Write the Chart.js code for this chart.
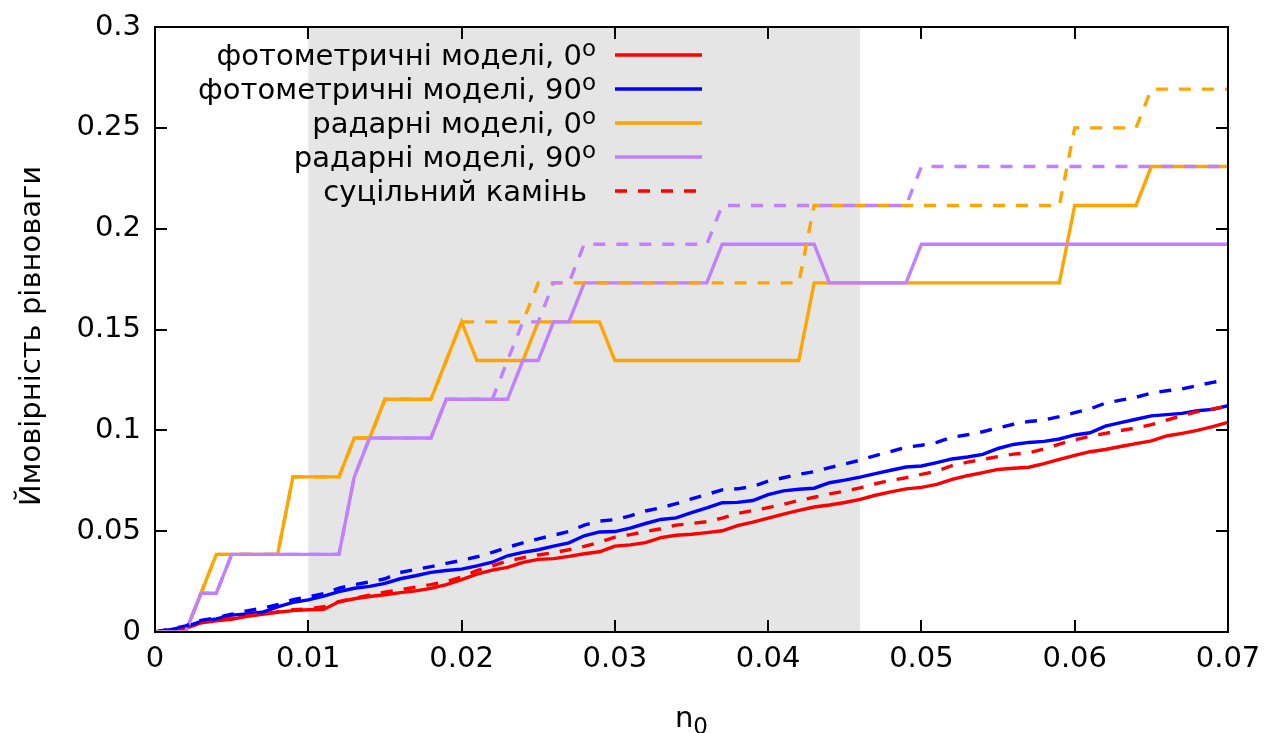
<!DOCTYPE html>
<html>
<head>
<meta charset="utf-8">
<script src="https://cdn.jsdelivr.net/npm/chart.js@4"></script>
<style>
  html, body { margin: 0; padding: 0; background: #fff; }
  #wrap { width: 1266px; height: 733px; }
</style>
</head>
<body>
<div id="wrap"><canvas id="chart"></canvas></div>
<script>
// n0 grid
const n0 = [0, 0.001, 0.002, 0.003, 0.004, 0.005, 0.006, 0.007, 0.008, 0.009,
  0.01, 0.011, 0.012, 0.013, 0.014, 0.015, 0.016, 0.017, 0.018, 0.019,
  0.02, 0.021, 0.022, 0.023, 0.024, 0.025, 0.026, 0.027, 0.028, 0.029,
  0.03, 0.031, 0.032, 0.033, 0.034, 0.035, 0.036, 0.037, 0.038, 0.039,
  0.04, 0.041, 0.042, 0.043, 0.044, 0.045, 0.046, 0.047, 0.048, 0.049,
  0.05, 0.051, 0.052, 0.053, 0.054, 0.055, 0.056, 0.057, 0.058, 0.059,
  0.06, 0.061, 0.062, 0.063, 0.064, 0.065, 0.066, 0.067, 0.068, 0.069, 0.07]

// photometric models
const photo0 = [0, 0.0008, 0.0018, 0.0045, 0.0055, 0.0063, 0.0078, 0.0088, 0.0098, 0.0106,
  0.011, 0.0112, 0.015, 0.0165, 0.0176, 0.0185, 0.0195, 0.0204, 0.0216, 0.0235,
  0.026, 0.0287, 0.0307, 0.032, 0.0345, 0.036, 0.0364, 0.0375, 0.0388, 0.0398,
  0.0426, 0.0432, 0.0443, 0.0468, 0.048, 0.0485, 0.0493, 0.0502, 0.0528, 0.0545,
  0.0565, 0.0585, 0.0603, 0.062, 0.063, 0.0642, 0.0658, 0.0678, 0.0695, 0.071,
  0.0717, 0.0732, 0.0757, 0.0775, 0.079, 0.0806, 0.0812, 0.0817, 0.0835, 0.0856,
  0.0876, 0.0894, 0.0905, 0.092, 0.0934, 0.0948, 0.0972, 0.0985, 0.1, 0.1018, 0.104]

const photo90 = [0, 0.0012, 0.0026, 0.0052, 0.0065, 0.0084, 0.009, 0.0098, 0.0125, 0.0147,
  0.0159, 0.0178, 0.02, 0.0217, 0.0226, 0.0241, 0.0264, 0.0279, 0.0296, 0.0305,
  0.0312, 0.0328, 0.0346, 0.0378, 0.0395, 0.0408, 0.0426, 0.0442, 0.0477, 0.0496,
  0.0498, 0.0515, 0.0538, 0.0558, 0.0566, 0.0592, 0.0615, 0.0641, 0.0643, 0.0652,
  0.0681, 0.07, 0.0708, 0.0713, 0.074, 0.0753, 0.0768, 0.0785, 0.0802, 0.0818,
  0.0823, 0.084, 0.0858, 0.0868, 0.0881, 0.091, 0.093, 0.094, 0.0945, 0.0957,
  0.0977, 0.0988, 0.1021, 0.1038, 0.1055, 0.1072, 0.1078, 0.1084, 0.1097, 0.1104, 0.1122]

// radar models
const radar0 = [0, 0, 0, 0.0192, 0.0385, 0.0385, 0.0385, 0.0385, 0.0385, 0.0769,
  0.0769, 0.0769, 0.0769, 0.0962, 0.0962, 0.1154, 0.1154, 0.1154, 0.1154, 0.1346,
  0.1538, 0.1346, 0.1346, 0.1346, 0.1346, 0.1538, 0.1538, 0.1538, 0.1538, 0.1538,
  0.1346, 0.1346, 0.1346, 0.1346, 0.1346, 0.1346, 0.1346, 0.1346, 0.1346, 0.1346,
  0.1346, 0.1346, 0.1346, 0.1731, 0.1731, 0.1731, 0.1731, 0.1731, 0.1731, 0.1731,
  0.1731, 0.1731, 0.1731, 0.1731, 0.1731, 0.1731, 0.1731, 0.1731, 0.1731, 0.1731,
  0.2115, 0.2115, 0.2115, 0.2115, 0.2115, 0.2308, 0.2308, 0.2308, 0.2308, 0.2308, 0.2308]

const radar90 = [0, 0, 0, 0.0192, 0.0192, 0.0385, 0.0385, 0.0385, 0.0385, 0.0385,
  0.0385, 0.0385, 0.0385, 0.0769, 0.0962, 0.0962, 0.0962, 0.0962, 0.0962, 0.1154,
  0.1154, 0.1154, 0.1154, 0.1154, 0.1346, 0.1346, 0.1538, 0.1538, 0.1731, 0.1731,
  0.1731, 0.1731, 0.1731, 0.1731, 0.1731, 0.1731, 0.1731, 0.1923, 0.1923, 0.1923,
  0.1923, 0.1923, 0.1923, 0.1923, 0.1731, 0.1731, 0.1731, 0.1731, 0.1731, 0.1731,
  0.1923, 0.1923, 0.1923, 0.1923, 0.1923, 0.1923, 0.1923, 0.1923, 0.1923, 0.1923,
  0.1923, 0.1923, 0.1923, 0.1923, 0.1923, 0.1923, 0.1923, 0.1923, 0.1923, 0.1923, 0.1923]

// solid rock (dashed curves)
const rockPhoto0 = [0, 0.0008, 0.002, 0.0048, 0.006, 0.0068, 0.008, 0.009, 0.01, 0.011,
  0.0115, 0.0125, 0.015, 0.0168, 0.0182, 0.0198, 0.021, 0.0222, 0.0235, 0.025,
  0.0272, 0.0305, 0.0328, 0.0352, 0.0368, 0.0382, 0.0393, 0.0408, 0.0425, 0.0445,
  0.047, 0.0483, 0.0498, 0.0512, 0.053, 0.0538, 0.0547, 0.0565, 0.0588, 0.0602,
  0.0617, 0.0633, 0.0652, 0.0668, 0.0685, 0.0698, 0.0715, 0.0735, 0.0752, 0.0765,
  0.0782, 0.0798, 0.0825, 0.0842, 0.0856, 0.087, 0.0882, 0.0888, 0.0908, 0.0932,
  0.0953, 0.097, 0.0985, 0.0999, 0.1012, 0.1028, 0.1051, 0.1073, 0.1093, 0.1106, 0.112]

const rockPhoto90 = [0, 0.0015, 0.003, 0.0058, 0.007, 0.0088, 0.0105, 0.0118, 0.0135, 0.016,
  0.0175, 0.019, 0.0217, 0.0235, 0.0248, 0.0264, 0.0295, 0.031, 0.0324, 0.034,
  0.0355, 0.0373, 0.0395, 0.042, 0.0442, 0.0462, 0.048, 0.0498, 0.053, 0.055,
  0.0557, 0.0576, 0.06, 0.0616, 0.0636, 0.066, 0.0682, 0.0705, 0.071, 0.0722,
  0.0748, 0.0765, 0.0782, 0.0795, 0.0815, 0.0833, 0.0852, 0.0875, 0.0895, 0.0916,
  0.0926, 0.094, 0.0966, 0.0978, 0.0993, 0.1012, 0.103, 0.1044, 0.1051, 0.1068,
  0.1088, 0.1106, 0.1135, 0.115, 0.1164, 0.1185, 0.1196, 0.1205, 0.1222, 0.1238, 0.125]

const rockRadar0 = [0, 0, 0, 0.0192, 0.0385, 0.0385, 0.0385, 0.0385, 0.0385, 0.0769,
  0.0769, 0.0769, 0.0769, 0.0962, 0.0962, 0.1154, 0.1154, 0.1154, 0.1154, 0.1346,
  0.1538, 0.1538, 0.1538, 0.1538, 0.1538, 0.1731, 0.1731, 0.1731, 0.1731, 0.1731,
  0.1731, 0.1731, 0.1731, 0.1731, 0.1731, 0.1731, 0.1731, 0.1731, 0.1731, 0.1731,
  0.1731, 0.1731, 0.1731, 0.2115, 0.2115, 0.2115, 0.2115, 0.2115, 0.2115, 0.2115,
  0.2115, 0.2115, 0.2115, 0.2115, 0.2115, 0.2115, 0.2115, 0.2115, 0.2115, 0.2115,
  0.25, 0.25, 0.25, 0.25, 0.25, 0.2692, 0.2692, 0.2692, 0.2692, 0.2692, 0.2692]

const rockRadar90 = [0, 0, 0, 0.0192, 0.0192, 0.0385, 0.0385, 0.0385, 0.0385, 0.0385,
  0.0385, 0.0385, 0.0385, 0.0769, 0.0962, 0.0962, 0.0962, 0.0962, 0.0962, 0.1154,
  0.1154, 0.1154, 0.1154, 0.1346, 0.1538, 0.1538, 0.1731, 0.1731, 0.1923, 0.1923,
  0.1923, 0.1923, 0.1923, 0.1923, 0.1923, 0.1923, 0.1923, 0.2115, 0.2115, 0.2115,
  0.2115, 0.2115, 0.2115, 0.2115, 0.2115, 0.2115, 0.2115, 0.2115, 0.2115, 0.2115,
  0.2308, 0.2308, 0.2308, 0.2308, 0.2308, 0.2308, 0.2308, 0.2308, 0.2308, 0.2308,
  0.2308, 0.2308, 0.2308, 0.2308, 0.2308, 0.2308, 0.2308, 0.2308, 0.2308, 0.2308, 0.2308]

// axes
const xTicks = [0, 0.01, 0.02, 0.03, 0.04, 0.05, 0.06, 0.07]
const xTickLabels = ["0", "0.01", "0.02", "0.03", "0.04", "0.05", "0.06", "0.07"]
const yTicks = [0, 0.05, 0.1, 0.15, 0.2, 0.25, 0.3]
const yTickLabels = ["0", "0.05", "0.1", "0.15", "0.2", "0.25", "0.3"]

// shaded band
const bandFrom = 0.01
const bandTo = 0.046

const FONT = "'DejaVu Sans', sans-serif"
const FS = 29
const RED = "#ff0000"
const BLUE = "#0000ff"
const ORANGE = "#ffa500"
const PURPLE = "#c080ff"
const LW = 3.4
const DASH = [12, 11]

// key entries: [text, superscript, colour, dashed]
const keyItems = [
  ["фотометричні моделі, 0", "o", RED, false],
  ["фотометричні моделі, 90", "o", BLUE, false],
  ["радарні моделі, 0", "o", ORANGE, false],
  ["радарні моделі, 90", "o", PURPLE, false],
  ["суцільний камінь", "", RED, true],
]

function series(values, color, dashed, order) {
  return {
    data: n0.map((x, i) => ({ x, y: values[i] })),
    borderColor: color,
    borderWidth: LW,
    borderDash: dashed ? DASH : [],
    pointRadius: 0,
    fill: false,
    tension: 0,
    order,
  }
}

const bandPlugin = {
  id: "band",
  beforeDatasetsDraw(chart) {
    const { ctx, chartArea, scales } = chart
    const x1 = scales.x.getPixelForValue(bandFrom)
    const x2 = scales.x.getPixelForValue(bandTo)
    ctx.save()
    ctx.fillStyle = "#e5e5e5"
    ctx.fillRect(x1, chartArea.top, x2 - x1, chartArea.bottom - chartArea.top)
    ctx.restore()
  },
}

// border box with inward ticks on all four sides, key and axis titles
const framePlugin = {
  id: "frame",
  afterDraw(chart) {
    const { ctx, chartArea: a, scales } = chart
    const tick = 12
    ctx.save()
    ctx.strokeStyle = "#000"
    ctx.lineWidth = 2
    ctx.beginPath()
    xTicks.forEach((v) => {
      const px = Math.round(scales.x.getPixelForValue(v))
      ctx.moveTo(px, a.bottom); ctx.lineTo(px, a.bottom - tick)
      ctx.moveTo(px, a.top); ctx.lineTo(px, a.top + tick)
    })
    yTicks.forEach((v) => {
      const py = Math.round(scales.y.getPixelForValue(v))
      ctx.moveTo(a.left, py); ctx.lineTo(a.left + tick, py)
      ctx.moveTo(a.right, py); ctx.lineTo(a.right - tick, py)
    })
    ctx.stroke()
    ctx.strokeRect(a.left, a.top, a.right - a.left, a.bottom - a.top)

    // key
    ctx.fillStyle = "#000"
    ctx.textBaseline = "alphabetic"
    ctx.textAlign = "right"
    keyItems.forEach(([text, sup, color, dashed], i) => {
      const cy = 55 + i * 34
      const base = cy + 10
      if (sup) {
        ctx.font = `23px ${FONT}`
        ctx.fillText(sup, 596, base - 9)
        const w = ctx.measureText(sup).width
        ctx.font = `${FS}px ${FONT}`
        ctx.fillText(text, 596 - w, base)
      } else {
        ctx.font = `${FS}px ${FONT}`
        ctx.fillText(text, 587, base)
      }
      ctx.strokeStyle = color
      ctx.lineWidth = LW
      ctx.setLineDash(dashed ? DASH : [])
      ctx.beginPath()
      ctx.moveTo(615, cy)
      ctx.lineTo(702, cy)
      ctx.stroke()
    })
    ctx.setLineDash([])

    // x title: n with subscript 0
    const cx = (a.left + a.right) / 2
    ctx.font = `${FS}px ${FONT}`
    const wn = ctx.measureText("n").width
    ctx.font = `23px ${FONT}`
    const w0 = ctx.measureText("0").width
    const sx = cx - (wn + w0) / 2
    ctx.textAlign = "left"
    ctx.font = `${FS}px ${FONT}`
    ctx.fillText("n", sx, 727)
    ctx.font = `23px ${FONT}`
    ctx.fillText("0", sx + wn, 734)

    // y title
    ctx.translate(32, 336)
    ctx.rotate(-Math.PI / 2)
    ctx.textAlign = "center"
    ctx.textBaseline = "middle"
    ctx.font = `${FS}px ${FONT}`
    ctx.fillText("Ймовірність рівноваги", 0, 0)
    ctx.restore()
  },
}

new Chart(document.getElementById("chart"), {
  type: "line",
  data: {
    datasets: [
      series(photo0, RED, false, 8),
      series(photo90, BLUE, false, 7),
      series(radar0, ORANGE, false, 6),
      series(radar90, PURPLE, false, 5),
      series(rockPhoto0, RED, true, 4),
      series(rockPhoto90, BLUE, true, 3),
      series(rockRadar0, ORANGE, true, 2),
      series(rockRadar90, PURPLE, true, 1),
    ],
  },
  options: {
    responsive: true,
    maintainAspectRatio: false,
    animation: false,
    events: [],
    layout: { padding: { top: 27, right: 38, left: 0, bottom: 0 } },
    plugins: { legend: { display: false }, tooltip: { enabled: false } },
    scales: {
      x: {
        type: "linear",
        min: 0,
        max: 0.07,
        grid: { display: false, drawTicks: false },
        border: { display: false },
        afterBuildTicks: (axis) => { axis.ticks = xTicks.map((value) => ({ value })) },
        afterFit: (axis) => { axis.height = 101; axis.paddingLeft = 0; axis.paddingRight = 0 },
        ticks: {
          autoSkip: false,
          maxRotation: 0,
          padding: 10,
          color: "#000",
          font: { family: FONT, size: FS },
          callback: (v, i) => xTickLabels[i],
        },
      },
      y: {
        min: 0,
        max: 0.3,
        grid: { display: false, drawTicks: false },
        border: { display: false },
        afterBuildTicks: (axis) => { axis.ticks = yTicks.map((value) => ({ value })) },
        afterFit: (axis) => { axis.width = 155; axis.paddingTop = 0; axis.paddingBottom = 0 },
        ticks: {
          autoSkip: false,
          padding: 14,
          color: "#000",
          font: { family: FONT, size: FS },
          callback: (v, i) => yTickLabels[i],
        },
      },
    },
  },
  plugins: [bandPlugin, framePlugin],
})
</script>
</body>
</html>
